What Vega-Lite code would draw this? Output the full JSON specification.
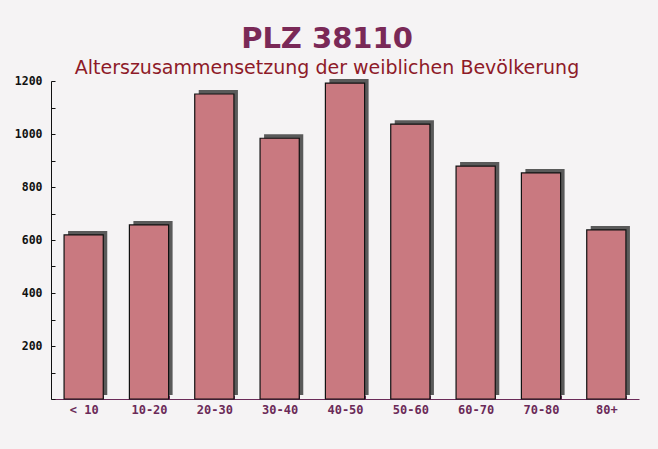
{
  "$schema": "https://vega.github.io/schema/vega-lite/v6.json",
  "width": 588,
  "height": 318,
  "autosize": "none",
  "padding": {"left": 51, "top": 81, "right": 19, "bottom": 50},
  "background": "#f5f3f4",
  "title": {
    "text": "PLZ 38110",
    "subtitle": "Alterszusammensetzung der weiblichen Bevölkerung",
    "anchor": "middle",
    "dx": -18,
    "offset": -3,
    "font": "DejaVu Sans",
    "fontSize": 29,
    "fontWeight": "bold",
    "color": "#7a2957",
    "subtitleFont": "DejaVu Sans",
    "subtitleFontSize": 19,
    "subtitleColor": "#8e1a28",
    "subtitlePadding": 5
  },
  "data": {
    "values": [
      {"age": "< 10", "count": 619},
      {"age": "10-20", "count": 657},
      {"age": "20-30", "count": 1151},
      {"age": "30-40", "count": 984},
      {"age": "40-50", "count": 1192},
      {"age": "50-60", "count": 1037},
      {"age": "60-70", "count": 879},
      {"age": "70-80", "count": 853},
      {"age": "80+", "count": 638}
    ]
  },
  "encoding": {
    "x": {
      "field": "age",
      "type": "nominal",
      "sort": null,
      "scale": {"paddingInner": 0.4, "paddingOuter": 0.2},
      "axis": {
        "title": null,
        "labelAngle": 0,
        "labelFont": "DejaVu Sans Mono",
        "labelFontSize": 12,
        "labelFontWeight": "bold",
        "labelColor": "#6b2a58",
        "labelPadding": 9,
        "tickBand": "extent",
        "tickSize": -4,
        "tickColor": "#6b2a58",
        "domainColor": "#6b2a58",
        "grid": false
      }
    },
    "y": {
      "field": "count",
      "type": "quantitative",
      "scale": {"domain": [0, 1200], "nice": false},
      "axis": {
        "title": null,
        "values": [0, 100, 200, 300, 400, 500, 600, 700, 800, 900, 1000, 1100, 1200],
        "labelExpr": "datum.value % 200 == 0 && datum.value > 0 ? datum.label : ''",
        "format": "d",
        "labelFont": "DejaVu Sans Mono",
        "labelFontSize": 11.5,
        "labelFontWeight": "bold",
        "labelColor": "#111111",
        "labelPadding": 13,
        "tickSize": -4,
        "tickColor": "#111111",
        "domainColor": "#111111",
        "grid": false
      }
    }
  },
  "layer": [
    {
      "mark": {"type": "bar", "color": "#5a5a5a", "xOffset": 4, "yOffset": -4, "y2Offset": 0}
    },
    {
      "mark": {"type": "bar", "color": "#c97980", "stroke": "#111111", "strokeWidth": 1.2}
    }
  ],
  "config": {"view": {"stroke": null}}
}
